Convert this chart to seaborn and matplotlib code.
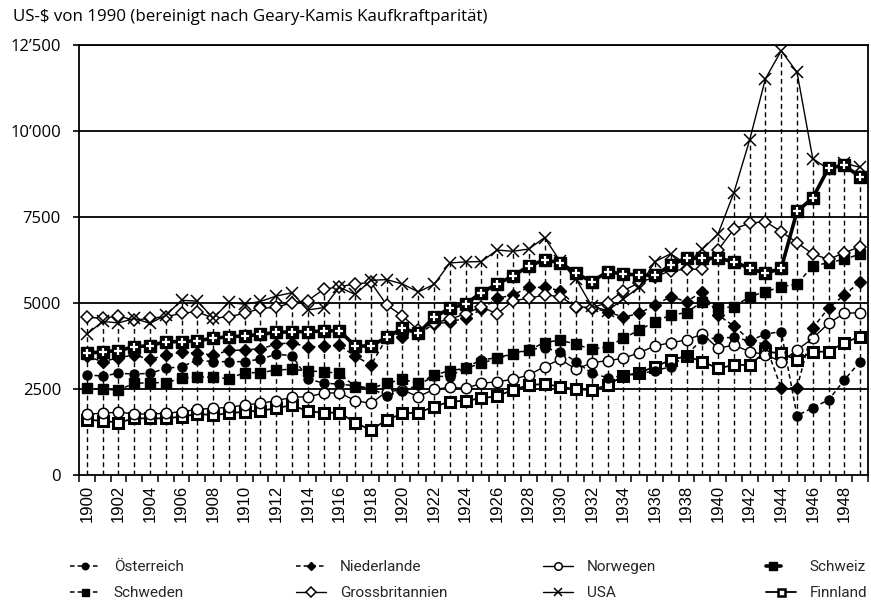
import matplotlib
matplotlib.use("Agg")
import matplotlib.pyplot as plt
import seaborn as sns
import pandas as pd
import numpy as np
from matplotlib.lines import Line2D
from matplotlib.ticker import FixedLocator, FixedFormatter
from matplotlib.legend_handler import HandlerTuple

# ---------------- data ----------------
years = list(range(1900, 1950))

oesterreich = [2907, 2878, 2955, 2936, 2955, 3101, 3150, 3340, 3295, 3295,
               3295, 3372, 3508, 3470, 2800, 2665, 2646, 2590, 2520, 2300,
               2450, 2611, 2877, 2855, 3137, 3342, 3411, 3521, 3657, 3690,
               3585, 3295, 2955, 2829, 2880, 2940, 3030, 3150, 3488, 3950,
               3982, 4000, 3900, 4099, 4167, 1725, 1957, 2180, 2762, 3295]
niederlande = [3450, 3295, 3410, 3488, 3363, 3488, 3566, 3537, 3488, 3620,
               3634, 3670, 3800, 3850, 3711, 3755, 3765, 3459, 3198, 3980,
               4022, 4100, 4390, 4450, 4560, 4816, 5136, 5233, 5455, 5455,
               5359, 4893, 4850, 4750, 4584, 4700, 4942, 5184, 5039, 5329,
               4651, 4331, 3924, 3790, 2529, 2529, 4273, 4855, 5233, 5620]
norwegen = [1773, 1792, 1831, 1773, 1773, 1792, 1841, 1909, 1938, 1967,
            2035, 2083, 2161, 2258, 2277, 2374, 2394, 2161, 2083, 2423,
            2471, 2277, 2490, 2548, 2519, 2664, 2713, 2781, 2907, 3150,
            3363, 3072, 3266, 3324, 3392, 3556, 3750, 3847, 3924, 4099,
            3682, 3779, 3585, 3500, 3295, 3634, 3973, 4410, 4700, 4719]
schweiz = [3537, 3585, 3614, 3730, 3759, 3875, 3875, 3904, 3973, 4022,
           4041, 4090, 4143, 4167, 4167, 4187, 4196, 3750, 3750, 4002,
           4264, 4119, 4584, 4845, 4971, 5300, 5552, 5785, 6076, 6250,
           6172, 5862, 5620, 5911, 5843, 5814, 5800, 6105, 6299, 6299,
           6299, 6201, 6007, 5862, 6007, 7664, 8052, 8925, 9003, 8662]
schweden = [2519, 2490, 2471, 2664, 2684, 2684, 2810, 2859, 2839, 2800,
            2975, 2975, 3052, 3072, 3023, 3004, 2955, 2568, 2519, 2665,
            2781, 2665, 2907, 3033, 3101, 3246, 3392, 3508, 3634, 3847,
            3924, 3798, 3653, 3730, 3973, 4215, 4458, 4651, 4719, 5039,
            4845, 4894, 5184, 5329, 5474, 5552, 6076, 6172, 6270, 6424]
grossbritannien = [4584, 4555, 4624, 4500, 4555, 4600, 4700, 4748, 4555, 4603,
                   4700, 4845, 4874, 5010, 5068, 5397, 5475, 5552, 5600, 4942,
                   4622, 4215, 4429, 4525, 4690, 4893, 4680, 5068, 5136, 5233,
                   5184, 4893, 4864, 5010, 5359, 5591, 5760, 5940, 5979, 5979,
                   6540, 7150, 7320, 7364, 7074, 6755, 6424, 6270, 6460, 6640]
usa = [4091, 4464, 4421, 4551, 4410, 4642, 5079, 5055, 4559, 5017,
       4964, 5046, 5201, 5301, 4799, 4864, 5459, 5248, 5659, 5680,
       5552, 5323, 5540, 6164, 6195, 6205, 6539, 6503, 6569, 6899,
       6213, 5691, 4908, 4777, 5114, 5467, 6204, 6430, 6126, 6561,
       7010, 8206, 9741, 11518, 12333, 11709, 9197, 8886, 9065, 8944]
finnland = [1599, 1579, 1521, 1647, 1647, 1647, 1696, 1773, 1745, 1792,
            1841, 1870, 1938, 2035, 1850, 1812, 1812, 1521, 1308, 1599,
            1792, 1812, 1986, 2132, 2161, 2228, 2297, 2471, 2616, 2645,
            2568, 2490, 2471, 2616, 2878, 2975, 3150, 3343, 3459, 3295,
            3101, 3198, 3198, 3585, 3537, 3343, 3585, 3585, 3847, 4022]

y_ticks = [0, 2500, 5000, 7500, 10000, 12500]
y_tick_labels = ["0", "2500", "5000", "7500", "10\u2019000", "12\u2019500"]
x_tick_years = list(range(1900, 1950, 2))
title_text = "US-$ von 1990 (bereinigt nach Geary-Kamis Kaufkraftparität)"

series = {
    "Österreich": oesterreich,
    "Niederlande": niederlande,
    "Norwegen": norwegen,
    "Schweiz": schweiz,
    "Schweden": schweden,
    "Grossbritannien": grossbritannien,
    "USA": usa,
    "Finnland": finnland,
}

df = pd.DataFrame({"Jahr": years, **series})
long = df.melt(id_vars="Jahr", var_name="Land", value_name="Wert")

# ---------------- style ----------------
sns.set_theme(style="white")
plt.rcParams['font.family'] = ['Open Sans', 'DejaVu Sans']
plt.rcParams['axes.unicode_minus'] = False

dash = (0, (3.0, 2.0))
styles = {
    "Österreich": dict(marker="o", markerfacecolor="black", markeredgecolor="black",
                       markersize=6.5, markeredgewidth=1.0, linestyle=dash, linewidth=1.1),
    "Niederlande": dict(marker="D", markerfacecolor="black", markeredgecolor="black",
                        markersize=5.8, markeredgewidth=1.0, linestyle=dash, linewidth=1.1),
    "Norwegen": dict(marker="o", markerfacecolor="white", markeredgecolor="black",
                     markersize=7.5, markeredgewidth=1.1, linestyle="-", linewidth=1.0),
    "Schweiz": dict(marker="s", markerfacecolor="black", markeredgecolor="black",
                    markersize=8.0, markeredgewidth=1.0, linestyle="-", linewidth=2.6),
    "Schweden": dict(marker="s", markerfacecolor="black", markeredgecolor="black",
                     markersize=7.0, markeredgewidth=1.0, linestyle=dash, linewidth=1.1),
    "Grossbritannien": dict(marker="D", markerfacecolor="white", markeredgecolor="black",
                            markersize=6.5, markeredgewidth=1.1, linestyle="-", linewidth=1.0),
    "USA": dict(marker="x", markeredgecolor="black", markersize=8.0,
                markeredgewidth=1.1, linestyle="-", linewidth=1.0),
    "Finnland": dict(marker="s", markerfacecolor="white", markeredgecolor="black",
                     markersize=7.0, markeredgewidth=2.2, linestyle="-", linewidth=1.3),
}
plus_style = dict(marker="+", markeredgecolor="white", markersize=6.0,
                  markeredgewidth=1.6, linestyle="none")

W, H = 871, 607
fig = plt.figure(figsize=(W / 100, H / 100), dpi=100)
fig.patch.set_facecolor("white")
ax = fig.add_axes([79 / W, 1 - 475 / H, (868 - 79) / W, (475 - 45) / H])
ax.set_facecolor("white")

# gridlines (drawn under)
for yv in y_ticks[1:]:
    ax.axhline(yv, color="black", linewidth=1.3, zorder=1)

# high-low drop lines from axis to the highest value of each year
max_per_year = df[list(series.keys())].max(axis=1)
ax.vlines(df["Jahr"], 0, max_per_year, colors="black", linewidth=1.0,
          linestyles=[(0, (3.5, 2.5))], zorder=1.5)

# series
draw_order = ["Finnland", "Norwegen", "Schweden", "Österreich", "Niederlande",
              "Grossbritannien", "Schweiz", "USA"]
for name in draw_order:
    sub = long[long["Land"] == name]
    sns.lineplot(data=sub, x="Jahr", y="Wert", color="black", ax=ax,
                 errorbar=None, estimator=None, sort=False, zorder=3,
                 **styles[name])
    if name == "Schweiz":
        sns.lineplot(data=sub, x="Jahr", y="Wert", color="white", ax=ax,
                     errorbar=None, estimator=None, sort=False, zorder=3.1,
                     **plus_style)

# axes
ax.set_xlim(1899.5, 1949.5)
ax.set_ylim(0, 12500)
ax.set_xlabel("")
ax.set_ylabel("")
for s in ["left", "bottom", "right", "top"]:
    ax.spines[s].set_visible(True)
    ax.spines[s].set_color("black")
    ax.spines[s].set_linewidth(1.3)

ax.yaxis.set_major_locator(FixedLocator(y_ticks))
ax.yaxis.set_major_formatter(FixedFormatter(y_tick_labels))
ax.tick_params(axis="y", which="major", direction="out", length=4, width=1.2,
               color="black", pad=9, labelsize=12, labelcolor="black", left=True)

ax.xaxis.set_major_locator(FixedLocator(x_tick_years))
ax.xaxis.set_major_formatter(FixedFormatter([str(y) for y in x_tick_years]))
ax.xaxis.set_minor_locator(FixedLocator([y - 0.5 for y in years + [1950]]))
ax.tick_params(axis="x", which="major", length=0, pad=7, labelsize=12,
               labelrotation=90, labelcolor="black", bottom=True)
ax.tick_params(axis="x", which="minor", direction="out", length=5, width=1.1,
               color="black", bottom=True)
for lab in ax.get_xticklabels():
    lab.set_fontfamily(["Liberation Sans", "DejaVu Sans"])
ax.grid(False)

fig.text(13 / W, 1 - 17 / H, title_text, fontsize=12.2, va="center", ha="left",
         color="black")

# legends (4 columns x 2 rows, row-major order as in the reference)
def handle(name):
    st = dict(styles[name])
    st["markersize"] = st["markersize"] * 0.72
    if name == "Finnland":
        st["markeredgewidth"] = 1.8
    h = Line2D([], [], color="black", **st)
    if name == "Schweiz":
        ps = dict(plus_style)
        ps["markersize"] = 4.2
        ps["markeredgewidth"] = 1.2
        p = Line2D([], [], color="white", **ps)
        return (h, p)
    return h

columns = [("Österreich", "Schweden"), ("Niederlande", "Grossbritannien"),
           ("Norwegen", "USA"), ("Schweiz", "Finnland")]
col_x = [70, 296, 543, 766]
for (a, b), cx in zip(columns, col_x):
    leg = fig.legend([handle(a), handle(b)], [a, b], loc="upper left",
                     bbox_to_anchor=(cx / W, 1 - 560 / H), frameon=False,
                     handlelength=1.95, handletextpad=0.92,
                     labelspacing=0.78, borderpad=0, borderaxespad=0,
                     handler_map={tuple: HandlerTuple(ndivide=None)},
                     prop={"family": ["Roboto", "DejaVu Sans"], "size": 11})

fig.savefig("out.png", dpi=100, facecolor="white")
